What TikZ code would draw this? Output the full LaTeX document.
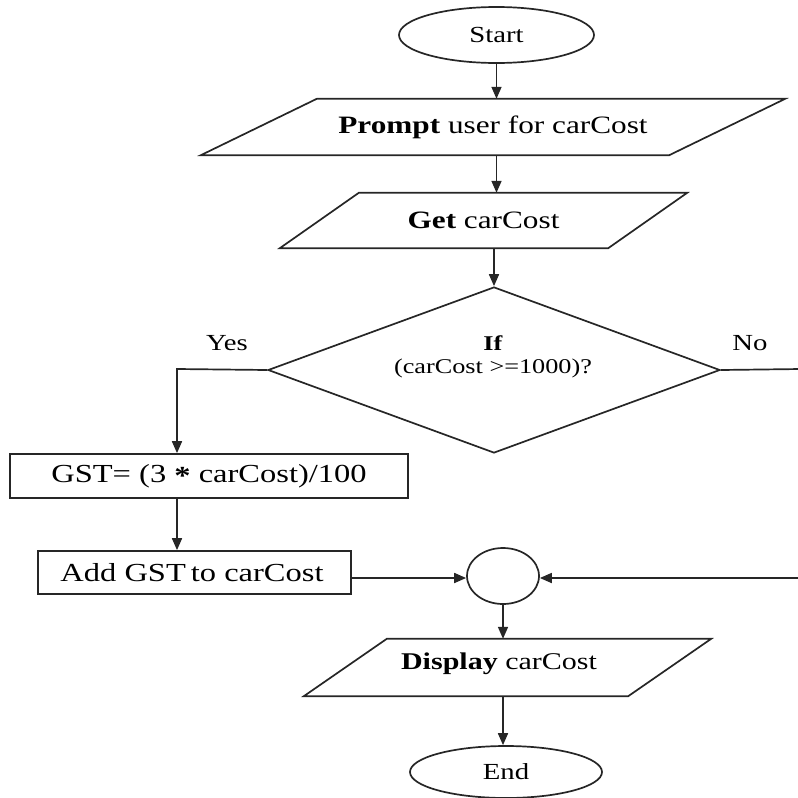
\documentclass[tikz,border=0pt]{standalone}
\usepackage{fontspec}
\setmainfont{Liberation Serif}
\usetikzlibrary{shapes.geometric,arrows.meta}

% wide lettering used throughout the chart
\newcommand\wtext[2]{\scalebox{1.25}[1]{\fontsize{#1}{#1}\selectfont #2}}

\begin{document}
\begin{tikzpicture}[x=1pt,y=-1pt,
  line/.style={line width=1.7pt,draw=black!85},
  arr/.style={line,-{Triangle[length=12pt,width=10pt]}},
  terminal/.style={ellipse,line,inner sep=0pt},
  procbox/.style={rectangle,line,inner sep=0pt},
  iobox/.style={rectangle,draw=none,inner sep=0pt},
  decision/.style={diamond,line,inner sep=0pt},
  lbl/.style={inner sep=0pt}
]
\useasboundingbox (0,0) rectangle (798,798);

% terminals
\node[terminal,minimum width=195,minimum height=56] (start) at (496.5,35) {\wtext{23}{Start}};
\node[terminal,minimum width=192,minimum height=52] (end) at (506,772) {\wtext{23}{End}};

% input / output parallelograms (text node + slanted outline)
\node[iobox,minimum width=584,minimum height=56] (prompt) at (493,127) {\wtext{25}{\textbf{Prompt} user for carCost}};
\draw[line] ([xshift=116pt]prompt.north west) -- (prompt.north east)
  -- ([xshift=-116pt]prompt.south east) -- (prompt.south west) -- cycle;

\node[iobox,minimum width=407,minimum height=55] (get) at (483.5,220.5) {\wtext{25}{\textbf{Get} carCost}};
\draw[line] ([xshift=79pt]get.north west) -- (get.north east)
  -- ([xshift=-79pt]get.south east) -- (get.south west) -- cycle;

\node[iobox,minimum width=407,minimum height=57] (disp) at (507.5,667.5) {};
\node[lbl] (disptext) at (499,664) {\wtext{24}{\textbf{Display} carCost}};
\draw[line] ([xshift=83pt]disp.north west) -- (disp.north east)
  -- ([xshift=-83pt]disp.south east) -- (disp.south west) -- cycle;

% decision
\node[decision,minimum width=452,minimum height=166] (dec) at (494,370) {};
\node[lbl] (dectext) at (493,357) {\scalebox{1.25}[1]{\fontsize{21}{23}\selectfont
  \begin{tabular}{@{}c@{}}\textbf{If}\\(carCost {>}=1000)?\end{tabular}}};
\node[lbl] (yes) at (227,343) {\wtext{23}{Yes}};
\node[lbl] (no) at (750,343) {\wtext{23}{No}};

% processes
\node[procbox,minimum width=398,minimum height=44] (gst) at (209,476) {\wtext{26}{GST= (3 \raisebox{-2pt}{\textbf{*}} carCost)/100}};
\node[procbox,minimum width=313,minimum height=43] (add) at (194.5,572.5) {};
\node[lbl] (addtext) at (192,573) {\wtext{26}{Add GST\kern-2.5pt\ to carCost}};

% connector junction
\node[terminal,minimum width=72,minimum height=56] (junc) at (503,576) {};

% bends of the branch lines
\coordinate (ycorner) at (177,369);
\coordinate (ncorner) at (801,369);
\coordinate (njoin) at (801,578);

% flow
\draw[arr] (start.south) -- (start.south |- prompt.north);
\draw[arr] (start.south |- prompt.south) -- (start.south |- get.north);
\draw[arr] (dec.north |- get.south) -- (dec.north);
\draw[arr] (dec.west) -- (ycorner) -- (ycorner |- gst.north);
\draw[arr] (ycorner |- gst.south) -- (ycorner |- add.north);
\draw[arr] (add.east |- njoin) -- (junc.west |- njoin);
\draw[arr] (dec.east) -- (ncorner) -- (njoin) -- (junc.east |- njoin);
\draw[arr] (junc.south) -- (junc.south |- disp.north);
\draw[arr] (junc.south |- disp.south) -- (junc.south |- end.north);
\end{tikzpicture}
\end{document}
